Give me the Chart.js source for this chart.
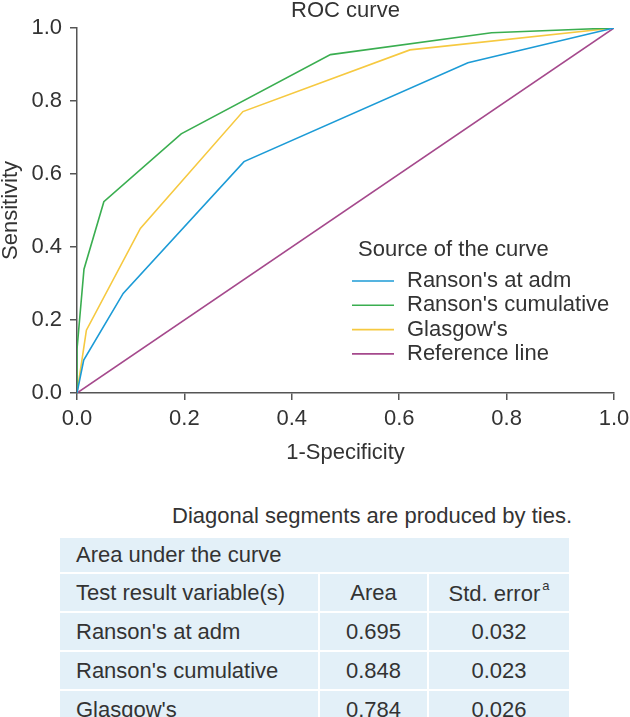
<!DOCTYPE html>
<html>
<head>
<meta charset="utf-8">
<script src="https://cdn.jsdelivr.net/npm/chart.js@4.4.1/dist/chart.umd.min.js"></script>
<style>
  body { margin: 0; width: 630px; height: 717px; overflow: hidden; background: #fff;
         font-family: "Liberation Sans", Arial, sans-serif; color: #333; }
  #wrap { position: absolute; left: 0; top: 0; width: 630px; height: 470px; }
  #note { position: absolute; left: 0; top: 503px; width: 572px; text-align: right;
          font-size: 22px; line-height: 26px; }
  #auc { position: absolute; left: 58px; top: 536px; width: 513px; border-collapse: collapse;
         font-size: 22px; }
  #auc td { background: #e3f0f8; border: 2px solid #fff; padding: 0 0 0 16px; height: 37px; }
  #auc td.num { text-align: center; padding: 0; }
  #auc tr.head td { height: 34px; }
  #auc sup { font-size: 13px; vertical-align: 11px; margin-left: 2px; }
</style>
</head>
<body>
<div id="wrap"><canvas id="rocChart" width="630" height="470"></canvas></div>
<div id="note">Diagonal segments are produced by ties.</div>
<table id="auc"></table>
<script>
// ROC points (1-specificity, sensitivity)
const admX = [0, 0.0125, 0.086, 0.311, 0.728, 1];
const admY = [0, 0.09, 0.273, 0.634, 0.905, 1];
const cumX = [0, 0, 0.013, 0.05, 0.194, 0.472, 0.772, 1];
const cumY = [0, 0.12, 0.339, 0.524, 0.71, 0.927, 0.987, 1];
const glaX = [0, 0.0175, 0.118, 0.309, 0.62, 1];
const glaY = [0, 0.172, 0.451, 0.771, 0.94, 1];
const refX = [0, 1];
const refY = [0, 1];
const tickValues = [0, 0.2, 0.4, 0.6, 0.8, 1.0];

const seriesNames = ["Ranson's at adm", "Ranson's cumulative", "Glasgow's", "Reference line"];
const seriesColors = ['#1c9bd6', '#3aae50', '#f6c940', '#a5498c'];

// area under the curve table
const aucNames = ["Ranson's at adm", "Ranson's cumulative", "Glasgow's"];
const aucArea = ['0.695', '0.848', '0.784'];
const aucStdErr = ['0.032', '0.023', '0.026'];

const FONT = '"Liberation Sans", Arial, sans-serif';
const TEXT = '#333';

function toPoints(xs, ys) {
  var pts = [];
  for (var i = 0; i < xs.length; i++) {
    pts.push({x: xs[i], y: ys[i]});
  }
  return pts;
}

const allX = [admX, cumX, glaX, refX];
const allY = [admY, cumY, glaY, refY];
const datasets = [];
for (var i = 0; i < seriesNames.length; i++) {
  datasets.push({
    label: seriesNames[i],
    data: toPoints(allX[i], allY[i]),
    borderColor: seriesColors[i],
    backgroundColor: seriesColors[i],
    borderWidth: 1.6,
    pointRadius: 0,
    tension: 0,
    fill: false
  });
}

// legend drawn in the middle right of the plot, like the source
const sourceLegend = {
  id: 'sourceLegend',
  afterDraw(chart) {
    const ctx = chart.ctx;
    ctx.save();
    ctx.font = '22px ' + FONT;
    ctx.fillStyle = TEXT;
    ctx.textBaseline = 'middle';
    ctx.textAlign = 'left';
    ctx.fillText('Source of the curve', 358, 250);
    chart.data.datasets.forEach((ds, i) => {
      const y = 281 + i * 24.3;
      ctx.strokeStyle = ds.borderColor;
      ctx.lineWidth = 1.6;
      ctx.beginPath();
      ctx.moveTo(352, y);
      ctx.lineTo(394, y);
      ctx.stroke();
      ctx.fillText(ds.label, 407, y);
    });
    ctx.restore();
  }
};

const config = {
  type: 'line',
  data: { datasets: datasets },
  options: {
    responsive: false,
    animation: false,
    devicePixelRatio: 1,
    layout: { padding: { top: 0, right: 16, bottom: 0, left: 0 } },
    plugins: {
      legend: { display: false },
      tooltip: { enabled: false },
      title: {
        display: true,
        text: 'ROC curve',
        fullSize: false,
        color: TEXT,
        font: { family: FONT, size: 22, weight: 'normal', lineHeight: 1 },
        padding: { top: 0, bottom: 6 }
      }
    },
    scales: {
      x: {
        type: 'linear',
        min: 0, max: 1,
        afterBuildTicks: (axis) => { axis.ticks = tickValues.map(v => ({value: v})); },
        afterFit: (axis) => { axis.height = 77; axis.paddingLeft = 0; axis.paddingRight = 0; },
        ticks: {
          color: TEXT, padding: 6,
          font: { family: FONT, size: 22 },
          callback: (v) => v.toFixed(1)
        },
        grid: { drawOnChartArea: false, tickLength: 7, color: '#555', lineWidth: 1.5 },
        border: { color: '#555', width: 1.5 },
        title: {
          display: true, text: '1-Specificity', color: TEXT,
          font: { family: FONT, size: 22, lineHeight: 1 },
          padding: { top: 9, bottom: 6 }
        }
      },
      y: {
        min: 0, max: 1,
        afterBuildTicks: (axis) => { axis.ticks = tickValues.map(v => ({value: v})); },
        afterFit: (axis) => { axis.width = 77; },
        ticks: {
          color: TEXT, padding: 8,
          font: { family: FONT, size: 22 },
          callback: (v) => v.toFixed(1)
        },
        grid: { drawOnChartArea: false, tickLength: 7, color: '#555', lineWidth: 1.5 },
        border: { color: '#555', width: 1.5 },
        title: {
          display: true, text: 'Sensitivity', color: TEXT,
          font: { family: FONT, size: 22, lineHeight: 1 },
          padding: 0
        }
      }
    }
  },
  plugins: [sourceLegend]
};

const rocChart = new Chart(document.getElementById('rocChart'), config);

// table under the chart
let tab = `<tr class="head"><td colspan="3">Area under the curve</td></tr>`;
tab += `<tr><td style="width:242px">Test result variable(s)</td><td class="num" style="width:107px">Area</td><td class="num">Std. error<sup>a</sup></td></tr>`;
aucNames.forEach((name, i) => {
  tab += `<tr><td>${name}</td><td class="num">${aucArea[i]}</td><td class="num">${aucStdErr[i]}</td></tr>`;
});
document.getElementById('auc').innerHTML = tab;
</script>
</body>
</html>
